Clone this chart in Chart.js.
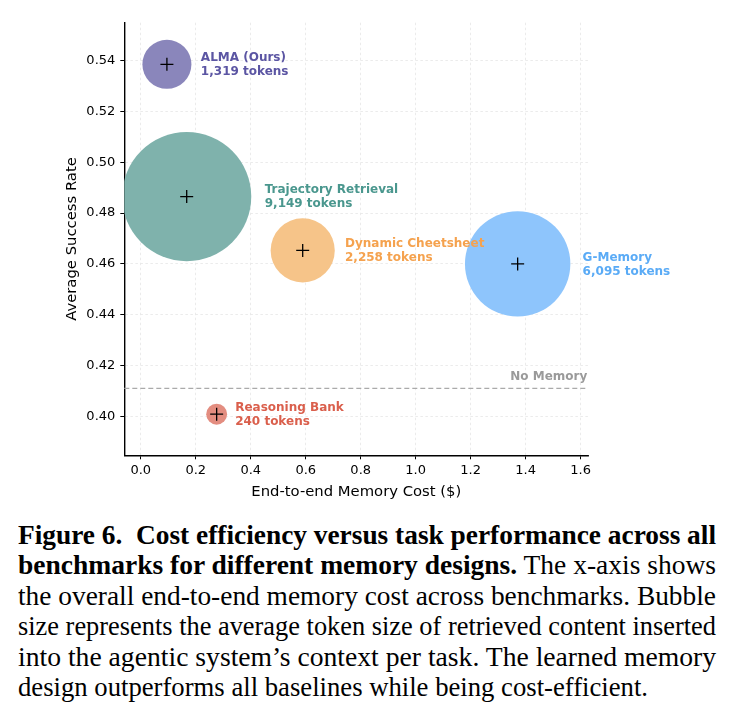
<!DOCTYPE html>
<html>
<head>
<meta charset="utf-8">
<script src="https://cdn.jsdelivr.net/npm/chart.js@4.4.1/dist/chart.umd.min.js"></script>
<style>
  html, body { margin: 0; padding: 0; background: #fff; }
  body { width: 734px; height: 712px; position: relative; overflow: hidden; }
  #chart { position: absolute; left: 0; top: 0; }
  .caption { position: absolute; left: 18px; top: 520px; width: 698px;
    font-family: "Liberation Serif", "Times New Roman", serif; font-size: 27px; line-height: 30.4px; color: #000; }
  .caption div { white-space: nowrap; }
  .caption span.line { display: inline-block; transform-origin: 0 50%; }
</style>
</head>
<body>
<canvas id="chart" width="734" height="505"></canvas>
<div class="caption">
  <div><span class="line" data-w="698"><b>Figure 6.&nbsp; Cost efficiency versus task performance across all</b></span></div>
  <div><span class="line" data-w="698"><b>benchmarks for different memory designs.</b> The x-axis shows</span></div>
  <div><span class="line" data-w="698">the overall end-to-end memory cost across benchmarks. Bubble</span></div>
  <div><span class="line" data-w="698">size represents the average token size of retrieved content inserted</span></div>
  <div><span class="line" data-w="698">into the agentic system’s context per task. The learned memory</span></div>
  <div><span class="line" data-w="630">design outperforms all baselines while being cost-efficient.</span></div>
</div>
<script>
// values
const methods = ['ALMA (Ours)', 'Trajectory Retrieval', 'Dynamic Cheetsheet', 'G-Memory', 'Reasoning Bank'];
const costs = [0.095, 0.167, 0.589, 1.371, 0.276];
const successRates = [0.5386, 0.4865, 0.4653, 0.460, 0.4008];
const tokens = [1319, 9149, 2258, 6095, 240];
const noMemoryRate = 0.411;

const xTicks = [0.0, 0.2, 0.4, 0.6, 0.8, 1.0, 1.2, 1.4, 1.6];
const yTicks = [0.40, 0.42, 0.44, 0.46, 0.48, 0.50, 0.52, 0.54];

const fillColors = ['#8a86bb', '#7fb2ac', '#f6c489', '#8ec5fc', '#e38d80'];
const textColors = ['#5b55a3', '#4a978e', '#f5a24e', '#5aabf6', '#da5f4c'];

const FONT = 'DejaVu Sans';
const bubbleRadius = t => 0.675 * Math.sqrt(t);

const points = methods.map((m, i) => ({ x: costs[i], y: successRates[i], r: bubbleRadius(tokens[i]) }));

// squeeze each caption line to the width it has in the figure
document.querySelectorAll('.caption span.line').forEach(el => {
  const w = el.getBoundingClientRect().width;
  el.style.transform = 'scaleX(' + (Number(el.dataset.w) / w) + ')';
});

const labelPlugin = {
  id: 'bubbleLabels',
  afterDatasetsDraw(chart) {
    const { ctx, scales: { x, y }, chartArea } = chart;
    ctx.save();
    // no memory baseline
    const yb = y.getPixelForValue(noMemoryRate);
    ctx.strokeStyle = '#aaaaaa';
    ctx.lineWidth = 1.3;
    ctx.setLineDash([5, 3]);
    ctx.beginPath();
    ctx.moveTo(chartArea.left, yb);
    ctx.lineTo(chartArea.right, yb);
    ctx.stroke();
    ctx.setLineDash([]);
    ctx.font = 'bold 12px "' + FONT + '"';
    ctx.fillStyle = '#9a9a9a';
    ctx.textAlign = 'right';
    ctx.textBaseline = 'middle';
    ctx.fillText('No Memory', chartArea.right - 1, yb - 11);

    ctx.textAlign = 'left';
    methods.forEach((m, i) => {
      const px = x.getPixelForValue(costs[i]);
      const py = y.getPixelForValue(successRates[i]);
      const r = bubbleRadius(tokens[i]);
      const lx = px + r * 1.1 + 7;
      ctx.fillStyle = textColors[i];
      ctx.fillText(m, lx, py - 6.5);
      ctx.fillText(tokens[i].toLocaleString('en-US') + ' tokens', lx, py + 7.5);
    });
    ctx.restore();
  }
};

new Chart(document.getElementById('chart'), {
  type: 'bubble',
  data: {
    datasets: [
      {
        type: 'scatter',
        data: points.map(p => ({ x: p.x, y: p.y })),
        pointStyle: 'cross',
        pointRadius: 6.5,
        borderColor: '#000',
        borderWidth: 1.3,
        order: 0
      },
      {
        data: points,
        backgroundColor: fillColors,
        borderWidth: 0,
        order: 1
      }
    ]
  },
  options: {
    responsive: false,
    animation: false,
    events: [],
    devicePixelRatio: 1,
    layout: { autoPadding: false, padding: { left: 0, right: 145.7, top: 22.7, bottom: 0 } },
    plugins: { legend: { display: false }, tooltip: { enabled: false } },
    scales: {
      x: {
        type: 'linear',
        min: -0.06,
        max: 1.628,
        afterBuildTicks: s => { s.ticks = xTicks.map(v => ({ value: v })); },
        afterFit: s => { s.height = 49.7; },
        ticks: {
          callback: v => v.toFixed(1),
          font: { family: FONT, size: 13 },
          color: '#000',
          padding: 4,
          maxRotation: 0
        },
        grid: {
          color: '#e6e6e6',
          lineWidth: 0.8,
          tickLength: 4,
          tickColor: '#000',
          tickWidth: 1,
          tickBorderDash: []
        },
        border: { color: '#000', width: 1.4, dash: [2.5, 2.5] },
        title: {
          display: true,
          text: 'End-to-end Memory Cost ($)',
          font: { family: FONT, size: 14.8 },
          color: '#000',
          padding: { top: 0, bottom: 4 }
        }
      },
      y: {
        type: 'linear',
        min: 0.3846,
        max: 0.555,
        afterBuildTicks: s => { s.ticks = yTicks.map(v => ({ value: v })); },
        afterFit: s => { s.width = 124.3; },
        ticks: {
          callback: v => v.toFixed(2),
          font: { family: FONT, size: 13 },
          color: '#000',
          padding: 5
        },
        grid: {
          color: '#e6e6e6',
          lineWidth: 0.8,
          tickLength: 4,
          tickColor: '#000',
          tickWidth: 1,
          tickBorderDash: []
        },
        border: { color: '#000', width: 1.4, dash: [2.5, 2.5] },
        title: {
          display: true,
          text: 'Average Success Rate',
          font: { family: FONT, size: 14.8 },
          color: '#000',
          padding: { top: 63, bottom: 0 }
        }
      }
    }
  },
  plugins: [labelPlugin]
});
</script>
</body>
</html>
